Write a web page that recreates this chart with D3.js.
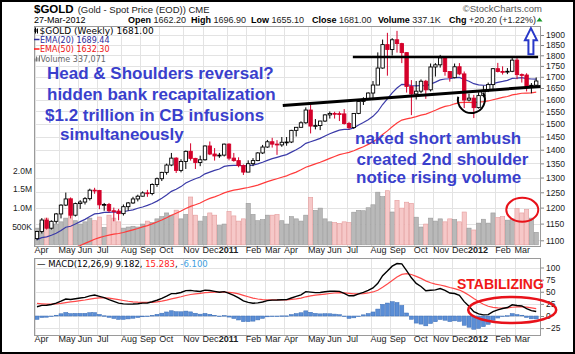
<!DOCTYPE html>
<html>
<head>
<meta charset="utf-8">
<script src="https://cdnjs.cloudflare.com/ajax/libs/d3/7.8.5/d3.min.js"></script>
<style>
  body { margin: 0; background: #fff; }
  svg text { font-family: "Liberation Sans", Arial, sans-serif; }
  .mono { font-family: "DejaVu Sans", Verdana, sans-serif; }
</style>
</head>
<body>
<div id="chart"></div>
<script>
// weekly bars, Apr 2 2010 .. Mar 27 2012 (last bar is the current partial week)
const dates = d3.timeFriday.range(new Date(2010, 3, 2), new Date(2012, 2, 24));
dates.push(new Date(2012, 2, 27));

const opens = [1105,1126,1161,1136,1157,1180,1208,1228,1176,1213,1218,1229,1257,1256,1209,1210,1190,1189,1181,1203,
  1215,1228,1237,1248,1246,1276,1296,1318,1344,1369,1325,1357,1394,1368,1353,1363,1414,1384,1377,1380,
  1421,1369,1360,1342,1319,1349,1360,1388,1410,1430,1421,1418,1428,1429,1474,1486,1504,1556,1491,1493,
  1511,1536,1542,1541,1540,1501,1485,1542,1592,1601,1628,1663,1740,1852,1828,1876,1857,1813,1657,1624,
  1636,1680,1642,1745,1755,1788,1724,1696,1746,1713,1598,1606,1566,1617,1640,1665,1737,1724,1722,1725,
  1777,1710,1708,1658,1662.2];
const highs = [1128,1167,1168,1160,1183,1211,1249,1233,1216,1224,1234,1262,1265,1258,1215,1215,1200,1196,1210,1218,
  1235,1242,1253,1258,1280,1300,1320,1349,1388,1372,1365,1397,1424,1370,1378,1416,1431,1406,1388,1423,
  1424,1388,1372,1346,1361,1369,1391,1418,1437,1445,1436,1448,1448,1476,1487,1510,1567,1577,1519,1512,
  1539,1550,1549,1550,1560,1508,1543,1594,1610,1631,1681,1814,1877,1911,1884,1921,1861,1815,1685,1681,
  1688,1686,1761,1763,1802,1796,1725,1761,1763,1724,1625,1620,1631,1660,1674,1740,1764,1748,1740,1787,
  1790,1715,1716,1672,1696.9];
const lows = [1100,1120,1132,1132,1150,1166,1205,1166,1172,1196,1210,1223,1245,1195,1190,1185,1157,1160,1175,1190,
  1212,1220,1236,1235,1240,1268,1288,1310,1340,1316,1318,1330,1360,1330,1340,1360,1380,1360,1370,1375,
  1361,1356,1336,1309,1319,1340,1358,1384,1407,1408,1381,1411,1415,1425,1450,1485,1500,1462,1478,1475,
  1507,1521,1521,1511,1497,1478,1480,1539,1577,1599,1604,1663,1737,1705,1799,1813,1763,1630,1535,1600,
  1627,1603,1635,1701,1742,1705,1678,1693,1707,1564,1592,1523,1562,1610,1632,1645,1720,1710,1712,1721,
  1689,1674,1635,1627,1655.1];
const closes = [1126,1161,1136,1157,1180,1208,1228,1176,1213,1218,1229,1257,1256,1209,1210,1190,1189,1181,1203,1215,
  1228,1237,1248,1246,1276,1296,1318,1344,1369,1325,1357,1394,1368,1353,1363,1414,1384,1377,1380,1421,
  1369,1360,1342,1319,1349,1360,1388,1410,1430,1421,1418,1428,1429,1474,1486,1504,1556,1491,1493,1511,
  1536,1542,1541,1540,1501,1485,1542,1592,1601,1628,1663,1740,1852,1828,1876,1857,1813,1657,1624,1636,
  1680,1642,1745,1755,1788,1724,1696,1746,1713,1598,1606,1566,1617,1640,1665,1737,1724,1722,1725,1777,
  1710,1708,1658,1662,1681];
// volume in thousands
const volumes = [450,580,720,560,560,620,720,1250,650,560,620,720,650,750,470,800,720,620,450,480,
  500,480,560,640,600,700,760,860,800,935,700,820,1290,800,640,760,860,800,520,560,
  900,780,640,700,1120,820,650,680,800,800,820,650,560,760,700,640,800,1280,930,990,
  700,620,600,580,620,600,880,930,920,1000,1080,1420,1300,1460,885,1200,990,1150,1120,745,
  480,560,720,640,700,620,700,680,620,885,450,400,585,690,585,860,736,760,665,700,
  975,860,950,720,337];
const ema20 = [1102,1108,1110,1115,1121,1129,1139,1142,1149,1156,1163,1172,1180,1182,1185,1185,1186,1185,1187,1190,
  1193,1198,1202,1207,1213,1221,1230,1241,1253,1260,1269,1281,1289,1296,1302,1313,1319,1325,1330,1339,
  1342,1343,1343,1341,1342,1344,1348,1354,1361,1367,1372,1377,1382,1391,1400,1410,1424,1430,1436,1443,
  1452,1461,1468,1475,1478,1478,1484,1495,1505,1516,1530,1550,1579,1603,1629,1650,1666,1665,1661,1659,
  1661,1659,1667,1676,1686,1690,1691,1696,1697,1688,1680,1669,1664,1662,1662,1669,1675,1679,1684,1693,
  1694,1696,1692,1690,1689.44];
const ema50 = [1040,1045,1048,1053,1058,1064,1070,1074,1080,1085,1091,1097,1103,1108,1112,1115,1118,1120,1123,1127,
  1131,1135,1140,1144,1149,1155,1161,1168,1176,1182,1189,1197,1204,1209,1215,1223,1230,1235,1241,1248,
  1253,1257,1260,1263,1266,1270,1274,1280,1286,1291,1296,1301,1306,1313,1319,1327,1336,1342,1348,1354,
  1361,1368,1375,1382,1386,1390,1396,1404,1411,1420,1429,1442,1458,1472,1488,1503,1515,1520,1524,1529,
  1535,1539,1547,1555,1564,1571,1575,1582,1587,1588,1588,1587,1589,1591,1594,1599,1604,1609,1613,1620,
  1623,1627,1628,1629,1632.3];
const macd = [19.0,22.0,22.1,23.7,26.4,30.5,35.0,34.0,35.7,37.0,38.5,41.5,43.3,40.5,37.9,33.9,30.3,26.5,24.9,24.4,
  24.7,25.3,26.5,26.9,29.3,32.5,36.3,40.9,46.1,46.3,48.4,52.3,52.8,51.4,50.5,53.3,52.5,50.7,48.9,50.3,
  46.6,42.5,37.3,31.0,28.1,26.4,27.0,28.9,31.7,32.8,33.0,33.6,33.7,37.1,40.3,43.7,50.2,49.3,48.3,48.4,
  49.9,51.0,51.3,50.7,46.7,41.7,41.8,45.5,48.6,52.6,57.9,67.5,83.2,92.6,102.8,108.1,107.5,93.4,78.7,67.2,
  60.9,52.2,53.1,53.9,56.6,53.0,47.3,46.3,42.4,29.6,19.9,8.9,4.3,2.4,2.9,9.0,12.6,15.4,17.4,23.0,
  21.7,20.7,15.2,11.1,9.182];
const signal = [26.0,25.2,24.6,24.4,24.8,25.9,27.7,29.0,30.3,31.6,33.0,34.7,36.4,37.2,37.4,36.7,35.4,33.6,31.9,30.4,
  29.3,28.5,28.1,27.9,28.2,29.0,30.5,32.6,35.3,37.5,39.7,42.2,44.3,45.7,46.7,48.0,48.9,49.3,49.2,49.4,
  48.8,47.6,45.5,42.6,39.7,37.0,35.0,33.8,33.4,33.3,33.2,33.3,33.4,34.1,35.3,37.0,39.6,41.6,42.9,44.0,
  45.2,46.4,47.4,48.0,47.8,46.6,45.6,45.6,46.2,47.5,49.6,53.2,59.2,65.9,73.3,80.3,85.7,87.2,85.5,81.8,
  77.6,72.5,68.6,65.7,63.9,61.7,58.8,56.3,53.5,48.7,43.0,36.2,29.8,24.3,20.0,17.8,16.8,16.5,16.7,18.0,
  18.7,19.1,18.3,16.9,15.283];
const hist = [-7.0,-3.2,-2.5,-0.7,1.6,4.6,7.3,5.0,5.4,5.4,5.5,6.8,6.9,3.3,0.5,-2.8,-5.1,-7.1,-7.0,-6.0,
  -4.6,-3.2,-1.6,-1.0,1.1,3.5,5.8,8.3,10.8,8.8,8.7,10.1,8.5,5.7,3.8,5.3,3.6,1.4,-0.3,0.9,
  -2.2,-5.1,-8.2,-11.6,-11.6,-10.6,-8.0,-4.9,-1.7,-0.5,-0.2,0.3,0.3,3.0,5.0,6.7,10.6,7.7,5.4,4.4,
  4.7,4.6,3.9,2.7,-1.1,-4.9,-3.8,-0.1,2.4,5.1,8.3,14.3,24.0,26.7,29.5,27.8,21.8,6.2,-6.8,-14.6,
  -16.7,-20.3,-15.5,-11.8,-7.3,-8.7,-11.5,-10.0,-11.1,-19.1,-23.1,-27.3,-25.5,-21.9,-17.1,-8.8,-4.2,-1.1,0.7,5.0,
  3.0,1.6,-3.1,-5.8,-6.1];

const priceTicks = d3.range(1100, 1901, 50);
const volTicks = [500000, 1000000, 1500000, 2000000];
const macdTicks = [-25, 0, 25, 50, 75, 100];
const monthNames = ["Jan","Feb","Mar","Apr","May","Jun","Jul","Aug","Sep","Oct","Nov","Dec"];

const W = 575, H = 354;
const plotL = 34, plotR = 541;
const priceTop = 26, priceBot = 246;
const macdTop = 258, macdBot = 335;
const n = closes.length;

const svg = d3.select("#chart").append("svg")
  .attr("width", W).attr("height", H);

svg.append("rect").attr("x", 0).attr("y", 0).attr("width", W).attr("height", H).attr("fill", "#fff");

const xi = d3.scaleLinear().domain([-0.5, n - 0.5]).range([34.6, 538.6]);
const y = d3.scaleLog().domain([1100, 1900]).range([240.3, 35]);
const yVol = d3.scaleLinear().domain([0, 2000000]).range([244.8, 170.7]);
const yMacd = d3.scaleLinear().domain([0, 100]).range([316, 267.5]);

const monthStarts = d3.range(n).filter(i => i === 0 || dates[i].getMonth() !== dates[i - 1].getMonth());

// panel clips and grid
svg.append("defs").append("clipPath").attr("id", "clipP")
  .append("rect").attr("x", plotL).attr("y", priceTop).attr("width", plotR - plotL).attr("height", priceBot - priceTop);
svg.select("defs").append("clipPath").attr("id", "clipM")
  .append("rect").attr("x", plotL).attr("y", macdTop).attr("width", plotR - plotL).attr("height", macdBot - macdTop);

const grid = svg.append("g").attr("stroke", "#e3e3e3").attr("stroke-width", 1);
priceTicks.forEach(v => {
  grid.append("line").attr("x1", plotL).attr("x2", plotR)
    .attr("y1", Math.round(y(v)) + 0.5).attr("y2", Math.round(y(v)) + 0.5);
});
macdTicks.forEach(v => {
  grid.append("line").attr("x1", plotL).attr("x2", plotR)
    .attr("y1", Math.round(yMacd(v)) + 0.5).attr("y2", Math.round(yMacd(v)) + 0.5);
});
monthStarts.forEach(i => {
  const gx = Math.round(xi(i - 0.5)) + 0.5;
  grid.append("line").attr("x1", gx).attr("x2", gx).attr("y1", priceTop).attr("y2", priceBot);
  grid.append("line").attr("x1", gx).attr("x2", gx).attr("y1", macdTop).attr("y2", macdBot);
});

// volume
const bw = xi(1) - xi(0);
const volG = svg.append("g").attr("clip-path", "url(#clipP)");
volG.selectAll("rect").data(volumes).enter().append("rect")
  .attr("x", (d, i) => xi(i) - bw / 2 + 0.3)
  .attr("width", bw - 0.6)
  .attr("y", d => yVol(d * 1000))
  .attr("height", d => yVol(0) - yVol(d * 1000))
  .attr("fill", (d, i) => i > 0 && closes[i] < closes[i - 1] ? "#f6c8c8" : "#b9b9b9")
  .attr("stroke", (d, i) => i > 0 && closes[i] < closes[i - 1] ? "#e59c9c" : "#9a9a9a")
  .attr("stroke-width", 0.6);

// moving averages
const lineP = (arr) => d3.line().x((d, i) => xi(i)).y(d => y(d))(arr);
svg.append("path").attr("d", lineP(ema50)).attr("clip-path", "url(#clipP)")
  .attr("fill", "none").attr("stroke", "#ff3b3b").attr("stroke-width", 1.2);
svg.append("path").attr("d", lineP(ema20)).attr("clip-path", "url(#clipP)")
  .attr("fill", "none").attr("stroke", "#3a3aa8").attr("stroke-width", 1.2);

// candles
const red = "#d4002a";
const candles = svg.append("g");
d3.range(n).forEach(i => {
  const o = opens[i], c = closes[i];
  const prev = i > 0 ? closes[i - 1] : o;
  const col = c < prev ? red : "#000";
  const cx = xi(i);
  candles.append("line").attr("x1", cx).attr("x2", cx)
    .attr("y1", y(highs[i])).attr("y2", y(lows[i]))
    .attr("stroke", col).attr("stroke-width", 1);
  const top = y(Math.max(o, c)), bot = y(Math.min(o, c));
  candles.append("rect").attr("x", cx - 1.7).attr("width", 3.4)
    .attr("y", top).attr("height", Math.max(0.8, bot - top))
    .attr("fill", c > o ? "#fff" : col)
    .attr("stroke", col).attr("stroke-width", 0.9);
});

// MACD panel
const macdG = svg.append("g").attr("clip-path", "url(#clipM)");
macdG.selectAll("rect").data(hist).enter().append("rect")
  .attr("x", (d, i) => xi(i) - bw / 2 + 0.4)
  .attr("width", bw - 0.8)
  .attr("y", d => yMacd(Math.max(0, d)))
  .attr("height", d => Math.max(0.6, Math.abs(yMacd(d) - yMacd(0))))
  .attr("fill", "#5b8ed6").attr("stroke", "#3b6db5").attr("stroke-width", 0.5);
const lineM = (arr) => d3.line().x((d, i) => xi(i)).y(d => yMacd(d))(arr);
macdG.append("path").attr("d", lineM(signal)).attr("fill", "none").attr("stroke", "#ff4a4a").attr("stroke-width", 1.2);
macdG.append("path").attr("d", lineM(macd)).attr("fill", "none").attr("stroke", "#000").attr("stroke-width", 1.4);

// frames
[[priceTop, priceBot], [macdTop, macdBot]].forEach(([t, b]) => {
  svg.append("rect").attr("x", plotL + 0.5).attr("y", t + 0.5)
    .attr("width", plotR - plotL - 1).attr("height", b - t)
    .attr("fill", "none").attr("stroke", "#9a9a9a");
});

// axes
const styleAxis = g => {
  g.select(".domain").remove();
  g.selectAll("text").attr("font-size", 8.5).attr("fill", "#222")
    .attr("font-family", "'Liberation Sans', Arial, sans-serif");
  g.selectAll(".tick line").attr("stroke", "#888");
};
svg.append("g").attr("transform", `translate(${plotR},0)`)
  .call(d3.axisRight(y).tickValues(priceTicks).tickFormat(d3.format("d")).tickSize(3).tickPadding(2))
  .call(styleAxis);
svg.append("g").attr("transform", `translate(${plotR},0)`)
  .call(d3.axisRight(yMacd).tickValues(macdTicks).tickFormat(d3.format("d")).tickSize(3).tickPadding(2))
  .call(styleAxis);
svg.append("g").attr("transform", `translate(${plotL - 1},0)`)
  .call(d3.axisLeft(yVol).tickValues(volTicks)
    .tickFormat(v => v >= 1e6 ? (v / 1e6).toFixed(1) + "M" : (v / 1000) + "K").tickSize(0).tickPadding(1))
  .call(styleAxis);

const timeAxis = d3.axisBottom(xi).tickValues(monthStarts)
  .tickFormat(i => dates[i].getMonth() === 0 ? String(dates[i].getFullYear()) : monthNames[dates[i].getMonth()])
  .tickSize(0).tickPadding(1);
[priceBot, macdBot].forEach(yy => {
  const g = svg.append("g").attr("transform", `translate(0,${yy})`).call(timeAxis).call(styleAxis);
  g.selectAll(".tick text")
    .attr("text-anchor", i => dates[i].getMonth() === 0 ? "middle" : "start")
    .attr("x", i => dates[i].getMonth() === 0 ? -1 : -3)
    .attr("font-weight", i => dates[i].getMonth() === 0 ? "bold" : "normal")
    .attr("font-size", 9);
});

// header
const ttl = svg.append("text").attr("x", 34).attr("y", 12.5).attr("font-size", 11.5).attr("font-weight", "bold").text("$GOLD");
const ttlW = ttl.node().getComputedTextLength();
svg.append("text").attr("x", 34 + ttlW + 4).attr("y", 12.5).attr("font-size", 9.5).attr("fill", "#222").text("(Gold - Spot Price (EOD))  CME");
svg.append("text").attr("x", 542).attr("y", 12).attr("text-anchor", "end").attr("font-size", 9.5).attr("fill", "#555").text("\u00A9StockCharts.com");
svg.append("text").attr("x", 34).attr("y", 22.5).attr("font-size", 9).text("27-Mar-2012");
const header = [["Open", "1662.20", 128], ["High", "1696.90", 191], ["Low", "1655.10", 251],
  ["Close", "1681.00", 312], ["Volume", "337.1K", 378], ["Chg", "+20.20 (+1.22%)", 449]];
header.forEach(([k, v, hx]) => {
  const t = svg.append("text").attr("x", hx).attr("y", 22.5).attr("font-size", 9);
  t.append("tspan").attr("font-weight", "bold").text(k);
  t.append("tspan").attr("fill", "#222").text(" " + v);
});
svg.append("path").attr("d", "M536.5,21.5 L539.5,17.5 L542.5,21.5 Z").attr("fill", "#1a9a2a");

// legends
const lg = svg.append("g").attr("class", "mono");
lg.append("path").attr("d", "M35.5,27.5 v6 M37.5,28.5 v5").attr("stroke", "#000").attr("stroke-width", 1);
lg.append("rect").attr("x", 34.5).attr("y", 29).attr("width", 2).attr("height", 3).attr("fill", "#000");
lg.append("text").attr("x", 39.5).attr("y", 33.5).attr("font-size", 9).attr("class", "mono").text("$GOLD (Weekly) 1681.00");
lg.append("line").attr("x1", 34).attr("x2", 39.5).attr("y1", 39.5).attr("y2", 39.5).attr("stroke", "#2b2b9a").attr("stroke-width", 1.5);
lg.append("text").attr("x", 40).attr("y", 42.5).attr("font-size", 8).attr("class", "mono").attr("fill", "#2b2b9a").text("EMA(20) 1689.44");
lg.append("line").attr("x1", 34).attr("x2", 39.5).attr("y1", 49).attr("y2", 49).attr("stroke", "#ff1a1a").attr("stroke-width", 1.5);
lg.append("text").attr("x", 40).attr("y", 52).attr("font-size", 8).attr("class", "mono").attr("fill", "#ee1111").text("EMA(50) 1632.30");
lg.append("path").attr("d", "M35,61.5 v-3 M36.5,61.5 v-5 M38,61.5 v-4 M39.5,61.5 v-6").attr("stroke", "#777").attr("stroke-width", 1);
lg.append("text").attr("x", 40.5).attr("y", 61.5).attr("font-size", 8).attr("class", "mono").attr("fill", "#666").text("Volume 337,071");

const ml = svg.append("text").attr("x", 37).attr("y", 267).attr("font-size", 8.5).attr("class", "mono");
ml.append("tspan").text("\u2014 MACD(12,26,9) 9.182, ");
ml.append("tspan").attr("fill", "#ff2222").text("15.283");
ml.append("tspan").text(", ");
ml.append("tspan").attr("fill", "#3ea0e0").text("-6.100");

// annotations
const blue = "#3a3fcc";
const noteL = [["Head & Shoulders reversal?", 47, 79], ["hidden bank recapitalization", 47, 100],
  ["$1.2 trillion in CB infusions", 45, 121], ["simultaneously", 60, 139.5]];
const noteR = [["naked short ambush", 355, 144], ["created 2nd shoulder", 356.5, 164.5], ["notice rising volume", 356, 183]];
noteL.concat(noteR).forEach(([t, tx, ty]) => {
  svg.append("text").attr("x", tx).attr("y", ty).attr("font-size", 17).attr("font-weight", "bold")
    .attr("fill", blue).text(t);
});
svg.append("text").attr("x", 457).attr("y", 288.5).attr("font-size", 14).attr("font-weight", "bold")
  .attr("fill", "#f01818").text("STABILIZING");

// drawn lines: resistance and neckline
svg.append("line").attr("x1", xi(65.8)).attr("x2", xi(104.4)).attr("y1", y(1792)).attr("y2", y(1792))
  .attr("stroke", "#000").attr("stroke-width", 2.5);
svg.append("line").attr("x1", xi(51.2)).attr("x2", xi(104.9)).attr("y1", y(1575)).attr("y2", y(1657))
  .attr("stroke", "#000").attr("stroke-width", 3);
const arc = d3.path();
arc.arc(xi(90.5), y(1600), 13.5, 3.35, -0.52, true);
svg.append("path").attr("d", arc.toString()).attr("fill", "none").attr("stroke", "#000").attr("stroke-width", 2);

svg.append("ellipse").attr("cx", xi(101.1)).attr("cy", yVol(944000)).attr("rx", 16).attr("ry", 12)
  .attr("fill", "none").attr("stroke", "#e8121a").attr("stroke-width", 2);
svg.append("ellipse").attr("cx", xi(99)).attr("cy", yMacd(12.4)).attr("rx", 44).attr("ry", 13)
  .attr("fill", "none").attr("stroke", "#e8121a").attr("stroke-width", 2.5);

// up arrow
const ax = xi(102.9), ay = y(1935);
svg.append("path")
  .attr("d", `M${ax},${ay} L${ax + 6},${ay + 12} L${ax + 2.5},${ay + 12} L${ax + 2.5},${ay + 26} L${ax - 2.5},${ay + 26} L${ax - 2.5},${ay + 12} L${ax - 6},${ay + 12} Z`)
  .attr("fill", "#fff").attr("stroke", "#2838c8").attr("stroke-width", 2).attr("stroke-linejoin", "miter");

// outer border
svg.append("rect").attr("x", 1).attr("y", 1).attr("width", W - 2).attr("height", H - 2)
  .attr("fill", "none").attr("stroke", "#000").attr("stroke-width", 2);
</script>
</body>
</html>
